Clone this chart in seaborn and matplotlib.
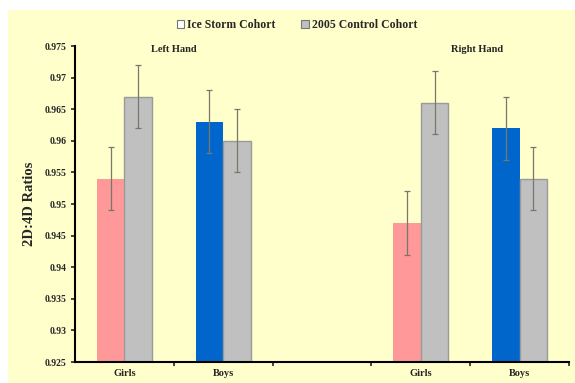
import matplotlib
matplotlib.use("Agg")
import matplotlib.pyplot as plt
from matplotlib.patches import Patch, Rectangle
import seaborn as sns
import pandas as pd
import numpy as np

# ---- data ----
slots = ["L-Girls", "L-Boys", "gap", "R-Girls", "R-Boys"]
slot_labels = ["Girls", "Boys", "", "Girls", "Boys"]
bar_slots = ["L-Girls", "L-Boys", "R-Girls", "R-Boys"]
cohorts = ["Ice Storm Cohort", "2005 Control Cohort"]
ice_values = [0.954, 0.963, 0.947, 0.962]
control_values = [0.967, 0.960, 0.966, 0.954]
ice_err = [0.005, 0.005, 0.005, 0.005]
control_err = [0.005, 0.005, 0.005, 0.005]
ytick_values = [0.925, 0.93, 0.935, 0.94, 0.945, 0.95, 0.955, 0.96, 0.965, 0.97, 0.975]
ytick_labels = ["0.925", "0.93", "0.935", "0.94", "0.945", "0.95", "0.955", "0.96", "0.965", "0.97", "0.975"]
hand_labels = ["Left Hand", "Right Hand"]

df = pd.DataFrame({
    "slot": bar_slots * 2,
    "cohort": [cohorts[0]] * 4 + [cohorts[1]] * 4,
    "value": ice_values + control_values,
    "err": ice_err + control_err,
})

# ---- style ----
YELLOW = "#FFFFCC"
PINK = "#FF9999"
BLUE = "#0066CC"
GRAY = "#C0C0C0"
sns.set_style("ticks")
plt.rcParams["font.family"] = ["Liberation Serif", "DejaVu Serif"]
plt.rcParams["font.weight"] = "bold"

fig = plt.figure(figsize=(5.75, 3.83), dpi=100)
fig.patch.set_facecolor("white")
fig.patches.append(Rectangle((8 / 575, 0), 1, 1 - 10 / 383, transform=fig.transFigure,
                             facecolor=YELLOW, edgecolor="none", zorder=-10))
ax = fig.add_axes([75 / 575, 1 - 362 / 383, (569 - 75) / 575, (362 - 46) / 383])
ax.set_facecolor(YELLOW)

sns.barplot(data=df, x="slot", y="value", hue="cohort", order=slots, hue_order=cohorts,
            palette=[PINK, GRAY], width=0.56, errorbar=None, ax=ax, legend=False,
            saturation=1)

# recolour bars: ice storm girls pink, boys blue; control gray
ice_colors = [PINK, BLUE, PINK, BLUE]
containers = ax.containers
for bar, c in zip(containers[0], ice_colors):
    bar.set_facecolor(c)
    bar.set_edgecolor("none")
for bar in containers[1]:
    bar.set_facecolor(GRAY)
    bar.set_edgecolor("#9a9a9a")
    bar.set_linewidth(1.0)

# error bars
for cont, vals, errs in zip(containers, [ice_values, control_values], [ice_err, control_err]):
    xs = [b.get_x() + b.get_width() / 2 for b in cont]
    ax.errorbar(xs, vals, yerr=errs, fmt="none", ecolor="#77776c", elinewidth=0.9,
                capsize=2, capthick=0.9, zorder=5)

ax.set_ylim(0.925, 0.975)
ax.set_xlim(-0.5, 4.5)
ax.set_yticks(ytick_values)
ax.set_yticklabels(ytick_labels, fontsize=7, fontweight="bold")
ax.set_xticks(range(len(slots)))
ax.set_xticklabels(slot_labels, fontsize=7.5, fontweight="bold")
ax.tick_params(axis="x", which="major", length=0, pad=5)
ax.set_xticks([0.5, 1.5, 2.5, 3.5, 4.5], minor=True)
ax.tick_params(axis="x", which="minor", length=3, width=1.2, direction="out")
ax.tick_params(axis="y", length=3, width=1.2, direction="out", pad=3)
ax.set_xlabel("")
ax.set_ylabel("2D:4D Ratios", fontsize=10.5, fontweight="bold", labelpad=6)
for s in ["top", "right"]:
    ax.spines[s].set_visible(False)
for s in ["left", "bottom"]:
    ax.spines[s].set_linewidth(1.5)
    ax.spines[s].set_color("black")

ax.text(0.5, 0.9745, hand_labels[0], ha="center", va="center", fontsize=7.5, fontweight="bold")
ax.text(3.57, 0.9745, hand_labels[1], ha="center", va="center", fontsize=7.5, fontweight="bold")

handles = [Patch(facecolor="white", edgecolor="#777777", linewidth=0.8),
           Patch(facecolor=GRAY, edgecolor="#777777", linewidth=0.8)]
fig.legend(handles, cohorts, loc="center", bbox_to_anchor=(297 / 575, 1 - 25 / 383),
           ncol=2, frameon=False, handlelength=0.6, handleheight=0.6,
           handletextpad=0.3, columnspacing=2.2, prop={"weight": "bold", "size": 8.5})

fig.savefig("out.png", dpi=100, facecolor=fig.get_facecolor())
